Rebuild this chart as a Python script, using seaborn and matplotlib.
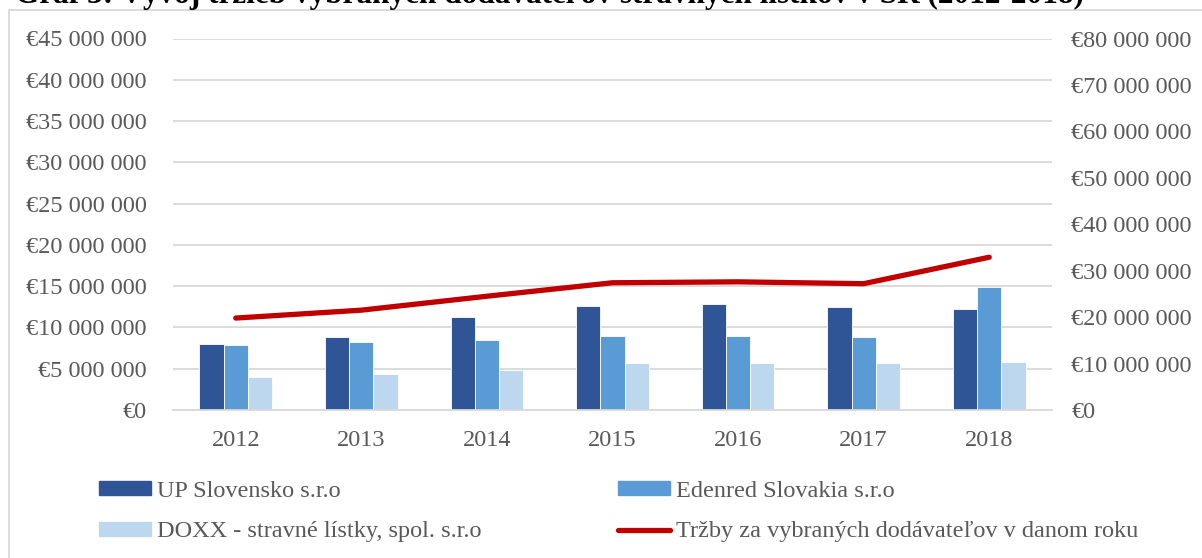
import matplotlib
matplotlib.use("Agg")
import matplotlib.pyplot as plt
import matplotlib.patches as mpatches
from matplotlib.lines import Line2D
import matplotlib.ticker as mticker
import seaborn as sns
import numpy as np
import pandas as pd

# values (EUR)
years = ["2012", "2013", "2014", "2015", "2016", "2017", "2018"]
up_slovensko = [7.97e6, 8.85e6, 11.28e6, 12.58e6, 12.80e6, 12.46e6, 12.21e6]
edenred = [7.90e6, 8.20e6, 8.49e6, 8.98e6, 8.98e6, 8.86e6, 14.92e6]
doxx = [3.96e6, 4.33e6, 4.89e6, 5.70e6, 5.70e6, 5.74e6, 5.82e6]
trzby_spolu = [19.8e6, 21.5e6, 24.5e6, 27.4e6, 27.6e6, 27.2e6, 32.9e6]

series_names = ["UP Slovensko s.r.o", "Edenred Slovakia s.r.o",
                "DOXX - stravné lístky, spol. s.r.o"]
line_name = "Tržby za vybraných dodávateľov v danom roku"
title = "Graf 3: Vývoj tržieb vybraných dodávateľov stravných lístkov v SR (2012-2018)"

colors = ["#2F5597", "#5B9BD5", "#BDD7EE"]
line_color = "#C00000"
text_color = "#595959"
grid_color = "#D9D9D9"
fs = 17.5

df = pd.DataFrame({
    "rok": years * 3,
    "firma": [series_names[0]] * 7 + [series_names[1]] * 7 + [series_names[2]] * 7,
    "trzby": up_slovensko + edenred + doxx,
})
df_line = pd.DataFrame({"pos": np.arange(len(years)), "trzby": trzby_spolu})

sns.set_style("white")
plt.rcParams["font.family"] = ["Liberation Serif", "DejaVu Serif"]

fig = plt.figure(figsize=(12.02, 5.58), dpi=100)
ax = fig.add_axes([173 / 1202, 1 - 410 / 558, (1052 - 173) / 1202, (410 - 38.5) / 558])

sns.barplot(data=df, x="rok", y="trzby", hue="firma", palette=colors,
            width=0.58, gap=0, ax=ax, legend=False, saturation=1,
            edgecolor="white", linewidth=0.6, zorder=2)

ax2 = ax.twinx()
sns.lineplot(data=df_line, x="pos", y="trzby", color=line_color, lw=3.8,
             ax=ax2, solid_capstyle="round", zorder=3)

ax.set_xlim(-0.5, len(years) - 0.5)
ax.set_ylim(0, 45e6)
ax2.set_ylim(0, 80e6)
ax.yaxis.set_major_locator(mticker.MultipleLocator(5e6))
ax2.yaxis.set_major_locator(mticker.MultipleLocator(10e6))


def euro(v, pos):
    return "€" + f"{int(round(v)):,}".replace(",", " ")


ax.yaxis.set_major_formatter(mticker.FuncFormatter(euro))
ax2.yaxis.set_major_formatter(mticker.FuncFormatter(euro))

ax.grid(axis="y", color=grid_color, lw=1.3, zorder=0)
ax.set_axisbelow(True)
for a in (ax, ax2):
    for s in a.spines.values():
        s.set_visible(False)
    a.set_xlabel("")
    a.set_ylabel("")
ax.spines["bottom"].set_visible(True)
ax.spines["bottom"].set_color(grid_color)
ax.spines["bottom"].set_linewidth(1.3)

ax.tick_params(axis="y", length=0, pad=19, labelsize=fs, labelcolor=text_color)
ax.tick_params(axis="x", length=0, pad=14.5, labelsize=fs, labelcolor=text_color)
ax2.tick_params(axis="y", length=0, pad=14, labelsize=fs, labelcolor=text_color)

handles = [
    mpatches.Patch(color=colors[0]),
    mpatches.Patch(color=colors[2]),
    mpatches.Patch(color=colors[1]),
    Line2D([0], [0], color=line_color, lw=3.8, solid_capstyle="round"),
]
labels = [series_names[0], series_names[2], series_names[1], line_name]
fig.legend(handles, labels, ncol=2, loc="upper left",
           bbox_to_anchor=(99 / 1202, 1 - 481 / 558), frameon=False,
           fontsize=fs, labelcolor=text_color, handlelength=2.15,
           handleheight=0.5, handletextpad=0.25, columnspacing=5.6,
           labelspacing=0.8, borderpad=0, borderaxespad=0)

# outer chart frame (runs off the right and bottom edges)
fig.patches.append(mpatches.Rectangle((9 / 1202, -0.1), 1.2, 1 - 10 / 558 + 0.1,
                                      transform=fig.transFigure, fill=False,
                                      edgecolor=grid_color, lw=1.3))

# caption sits partly above the top edge as in the source
fig.text(15 / 1202, 1 - 3.5 / 558, title, fontsize=22.5, fontweight="bold",
         va="baseline", ha="left", color="black")

fig.savefig("out.png", dpi=100)
